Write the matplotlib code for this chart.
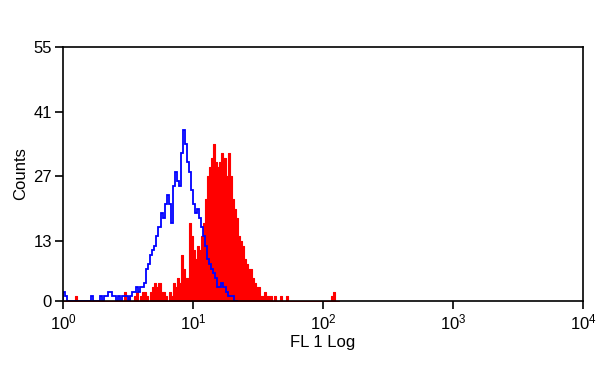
import matplotlib
matplotlib.use('Agg')
import matplotlib.pyplot as plt
import numpy as np

# Histogram counts per channel (256 channels over 4 decades)
red_counts = [0, 0, 0, 0, 0, 0, 1, 0, 0, 0,
              0, 0, 0, 0, 0, 0, 0, 0, 0, 0,
              0, 0, 0, 0, 0, 0, 0, 0, 0, 0,
              2, 0, 1, 0, 0, 1, 2, 0, 1, 2,
              2, 1, 0, 2, 3, 4, 3, 4, 2, 2,
              1, 0, 2, 1, 4, 3, 5, 4, 10, 7,
              5, 5, 17, 14, 11, 9, 12, 11, 14, 17,
              22, 27, 29, 31, 34, 30, 29, 30, 32, 31,
              27, 32, 27, 22, 20, 18, 14, 13, 12, 9,
              8, 7, 7, 5, 4, 3, 3, 1, 1, 2,
              1, 1, 1, 0, 1, 0, 0, 1, 0, 0,
              1, 0, 0, 0, 0, 0, 0, 0, 0, 0,
              0, 0, 0, 0, 0, 0, 0, 0, 0, 0,
              0, 0, 1, 2, 0, 0]

blue_counts = [2, 1, 0, 0, 0, 0, 0, 0, 0, 0,
               0, 0, 0, 0, 1, 0, 0, 0, 1, 0,
               1, 1, 2, 2, 1, 1, 0, 1, 0, 1,
               1, 1, 0, 1, 2, 2, 3, 2, 3, 3,
               4, 7, 8, 10, 11, 12, 14, 16, 19, 18,
               21, 23, 21, 17, 25, 28, 26, 25, 32, 37,
               34, 30, 28, 24, 21, 19, 20, 18, 16, 14,
               12, 9, 8, 7, 6, 5, 3, 3, 4, 3,
               2, 1, 1, 1, 0, 0]

y_ticks = [0, 13, 27, 41, 55]
x_ticks = [1, 10, 100, 1000, 10000]
x_tick_labels = [r'$\mathregular{10^{0}}$', r'$\mathregular{10^{1}}$',
                 r'$\mathregular{10^{2}}$', r'$\mathregular{10^{3}}$',
                 r'$\mathregular{10^{4}}$']

plt.rcParams['font.family'] = ['Liberation Sans', 'DejaVu Sans']

edges = np.logspace(0, 4, 257)

fig = plt.figure(figsize=(6, 3.68), dpi=100)
ax = fig.add_axes([0.105, 0.182, 0.8667, 0.6903])

# filled red histogram as one step polygon
red_x = edges[:len(red_counts) + 1]
red_y = np.append(red_counts, 0)
ax.fill_between(red_x, red_y, step='post', facecolor='#ff0000',
                edgecolor='#ff0000', linewidth=0.8)
ax.stairs(blue_counts, edges[:len(blue_counts) + 1], color='#0000ff', linewidth=1.3)

ax.set_xscale('log')
ax.set_xlim(1, 10000)
ax.set_ylim(0, 55)
ax.set_xticks(x_ticks)
ax.set_xticklabels(x_tick_labels)
ax.xaxis.set_minor_locator(matplotlib.ticker.NullLocator())
ax.set_yticks(y_ticks)

ax.tick_params(axis='both', labelsize=12, length=6, width=1.2, direction='out', pad=2)
for s in ax.spines.values():
    s.set_linewidth(1.2)

ax.set_xlabel('FL 1 Log', fontsize=12, labelpad=2)
ax.set_ylabel('Counts', fontsize=12, labelpad=4)

fig.savefig('out.png', dpi=100)
